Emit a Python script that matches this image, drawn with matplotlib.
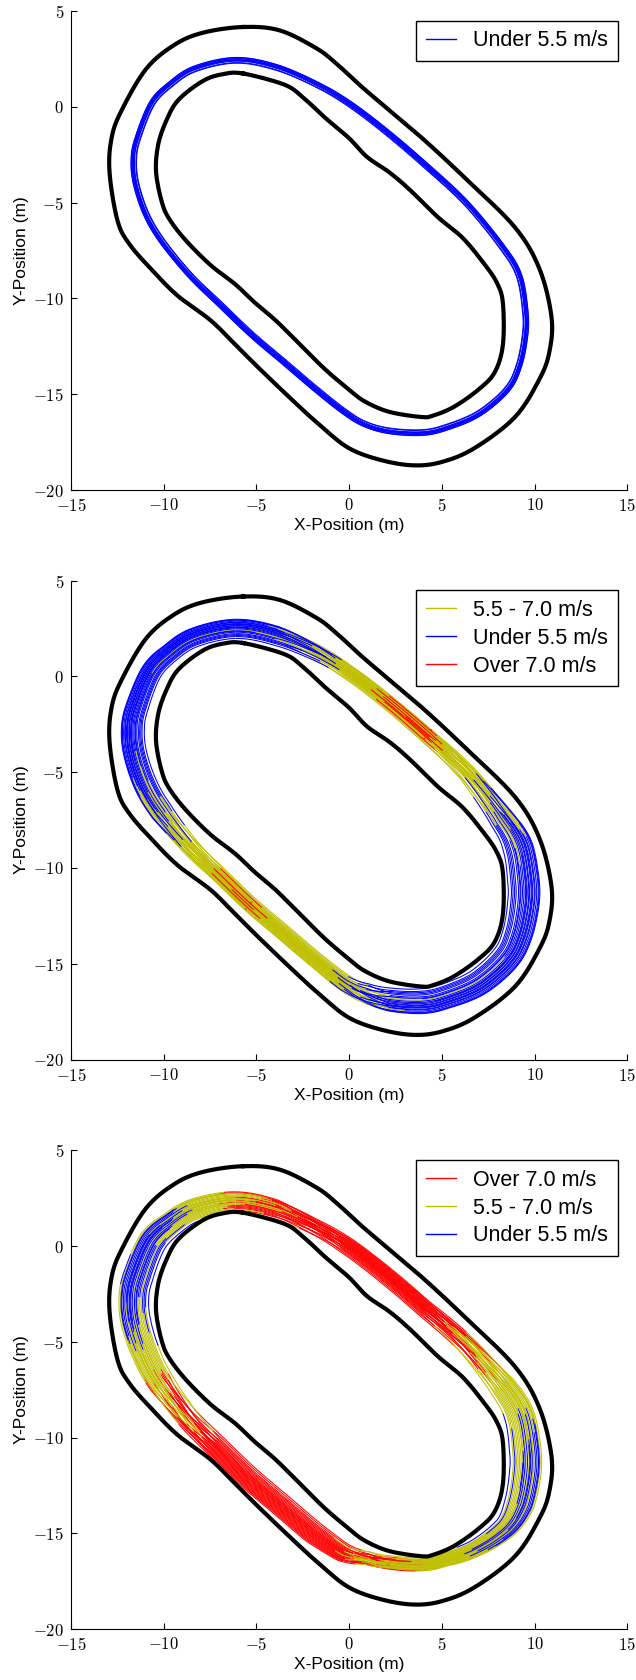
import numpy as np
import matplotlib
matplotlib.use("Agg")
import matplotlib.pyplot as plt
from matplotlib.collections import LineCollection
from matplotlib.lines import Line2D
from matplotlib.ticker import FuncFormatter

plt.rcParams['font.family'] = ['Liberation Sans', 'DejaVu Sans']
plt.rcParams['mathtext.fontset'] = 'cm'

# ---------------- track boundaries ----------------
outer_x = [-5.71, -3.74, -1.77, -0.68, 0.64, 2.17, 4.13, 6.32, 8.94, 10.26, 10.91, 10.80,
           10.26, 8.94, 6.76, 5.01, 3.48, 1.73, -0.02, -1.55, -3.08, -4.83, -6.14, -7.46,
           -9.21, -10.52, -11.83, -12.49, -12.92, -12.81, -12.27, -10.95, -9.42, -7.89]
outer_y = [4.17, 3.99, 3.06, 2.25, 1.08, -0.18, -1.80, -3.78, -6.29, -8.45, -10.97, -12.77,
           -14.21, -16.19, -17.81, -18.53, -18.71, -18.44, -17.81, -16.64, -15.29, -13.67, -12.41, -11.15,
           -9.89, -8.63, -7.19, -5.94, -3.42, -1.62, -0.18, 1.98, 3.24, 3.87]
inner_x = [-5.71, -3.52, -2.54, -1.33, -0.02, 0.96, 2.17, 3.26, 4.79, 6.11, 7.20, 7.96, 8.29,
           8.29, 7.85, 6.98, 5.66, 4.57, 3.92, 2.17, 0.85, -0.02, -1.33, -2.64, -3.96, -5.05,
           -6.14, -7.46, -8.77, -9.64, -10.08, -10.41, -10.30, -9.86, -9.21, -7.89, -6.80]
inner_y = [1.74, 1.17, 0.54, -0.54, -1.62, -2.61, -3.42, -4.32, -5.76, -6.83, -8.09, -9.17, -10.25,
           -12.41, -13.85, -14.75, -15.65, -16.10, -16.19, -15.92, -15.38, -14.75, -13.67, -12.41, -11.15, -10.25,
           -9.26, -8.27, -7.01, -5.94, -5.04, -3.42, -1.98, -0.72, 0.36, 1.35, 1.71]

# ---------------- driven line (knots, clockwise) ----------------
path_x = [-6.14, -3.96, -1.77, -0.02, 1.95, 4.13, 6.32, 8.29, 9.16, 9.49, 9.49, 9.16, 8.51, 6.98,
          5.23, 3.92, 2.17, 0.85, -0.24, -1.77, -3.52, -5.27, -7.02, -8.55, -10.08, -10.95,
          -11.50, -11.61, -11.39, -10.63, -9.64, -8.33]
path_y = [2.43, 2.07, 1.17, 0.18, -1.26, -3.06, -5.04, -7.37, -8.81, -10.61, -11.87, -13.49, -14.75,
          -16.01, -16.73, -17.00, -16.91, -16.55, -15.92, -14.75, -13.31, -11.87, -10.25, -8.81, -7.01,
          -5.58, -3.96, -2.70, -1.62, 0.18, 1.17, 1.98]
# 1 = corner knot, 0 = straight knot
corner = [1, 1, 0.5, 0, 0, 0, 0.5, 1, 1, 1, 1, 1, 1, 1, 1, 1, 1, 0.5, 0, 0, 0, 0, 0, 0.5, 1, 1,
          1, 1, 1, 1, 1, 1]

# ---- panel 1: all laps under 5.5 m/s
shift1 = [0.0] * 32
half1 = [0.15] * 32
lapA1 = [-1.0, -0.7, -0.45, -0.2, 0.0, 0.2, 0.4, 0.65, 0.85, 1.0]
lapB1 = [-0.8, -1.0, -0.3, 0.1, -0.1, 0.5, 0.2, 0.9, 0.6, 1.0]
speed1 = [4.6] * 32
bias1 = [0.0] * 10

# ---- panel 2
shift2 = [0.05, 0.05, 0.05, 0.0, 0.0, 0.0, 0.0, -0.1, -0.1, -0.1, -0.1, -0.1, -0.1, -0.05,
          -0.05, -0.05, -0.05, -0.05, 0.05, 0.05, 0.05, 0.05, 0.05, 0.05, 0.05, 0.05,
          0.05, 0.05, 0.05, 0.05, 0.05, 0.05]
half2 = [0.5, 0.5, 0.45, 0.38, 0.38, 0.4, 0.5, 0.65, 0.8, 0.85, 0.85, 0.8, 0.75, 0.7,
         0.65, 0.65, 0.6, 0.55, 0.45, 0.42, 0.42, 0.42, 0.42, 0.5, 0.6, 0.62,
         0.62, 0.62, 0.6, 0.55, 0.5, 0.5]
speed2 = [5.0, 5.2, 5.5, 6.2, 6.7, 6.8, 6.0, 5.4, 5.1, 4.9, 4.8, 4.9, 5.0, 5.0,
          5.0, 5.1, 5.2, 5.4, 5.8, 6.2, 6.3, 6.7, 6.6, 6.0, 5.5, 5.2,
          5.0, 4.9, 4.9, 5.0, 5.0, 5.0]
lapA2 = [-0.95, -0.8, -0.65, -0.55, -0.45, -0.35, -0.28, -0.2, -0.12, -0.05, 0.0, 0.05,
         0.12, 0.18, 0.25, 0.32, 0.4, 0.48, 0.56, 0.65, 0.75, 0.85, 0.95, 1.0]
lapB2 = [-0.6, -1.0, -0.2, -0.8, 0.1, -0.5, 0.3, -0.35, 0.5, -0.1, 0.2, -0.7,
         0.65, 0.0, 0.8, -0.25, 0.45, 0.95, 0.15, 1.0, 0.35, 0.7, 0.55, 0.9]
bias2 = [0.1, -0.3, 0.4, -0.1, 0.2, -0.5, 0.0, 0.3, -0.2, 0.5, -0.4, 0.1,
         0.25, -0.15, 0.35, -0.05, 0.15, -0.35, 0.45, -0.25, 0.05, 0.3, -0.45, 0.2]

# ---- panel 3
shift3 = [-0.15, -0.15, -0.2, -0.2, -0.2, -0.2, -0.1, 0.0, 0.0, 0.0, 0.0, 0.0, -0.1, -0.3,
          -0.4, -0.4, -0.4, -0.3, 0.1, 0.25, 0.25, 0.25, 0.25, 0.2, 0.1, 0.0,
          0.0, 0.0, 0.0, 0.0, -0.05, -0.1]
half3 = [0.55, 0.5, 0.45, 0.45, 0.45, 0.45, 0.55, 0.7, 0.8, 0.85, 0.85, 0.8, 0.6, 0.45,
         0.38, 0.35, 0.35, 0.4, 0.5, 0.6, 0.6, 0.6, 0.6, 0.65, 0.7, 0.75,
         0.8, 0.8, 0.8, 0.75, 0.65, 0.6]
speed3 = [6.9, 7.3, 7.6, 7.8, 7.9, 7.7, 7.1, 6.4, 5.8, 5.5, 5.4, 5.5, 5.6, 5.8,
          6.2, 6.6, 6.9, 7.1, 7.4, 7.6, 7.8, 7.8, 7.6, 7.2, 6.8, 6.0,
          5.4, 5.2, 5.1, 5.2, 5.5, 6.0]
lapA3 = [-1.0, -0.85, -0.7, -0.6, -0.5, -0.4, -0.3, -0.22, -0.15, -0.08, 0.0, 0.06,
         0.12, 0.2, 0.28, 0.35, 0.42, 0.5, 0.58, 0.66, 0.74, 0.82, 0.9, 1.0]
lapB3 = [-0.7, -0.3, -1.0, 0.2, -0.5, 0.4, -0.15, -0.8, 0.6, 0.0, 0.3, -0.4,
         0.8, -0.6, 0.1, 1.0, -0.2, 0.7, 0.5, -0.05, 0.9, 0.25, 0.45, 0.85]
bias3 = [-0.2, 0.3, -0.5, 0.1, 0.4, -0.3, 0.0, 0.2, -0.4, 0.5, -0.1, 0.3,
         -0.25, 0.15, -0.45, 0.35, 0.05, -0.15, 0.25, -0.35, 0.45, -0.05, 0.1, -0.2]

LABEL_LOW = 'Under 5.5 m/s'
LABEL_MID = '5.5 - 7.0 m/s'
LABEL_HIGH = 'Over 7.0 m/s'
COLORS = {0: '#0000ff', 1: '#bfbf00', 2: '#ff0000'}
LABELS = {0: LABEL_LOW, 1: LABEL_MID, 2: LABEL_HIGH}


def catmull_closed(px, py, m=24):
    P = np.column_stack([px, py])
    n = len(P)
    t = np.linspace(0, 1, m, endpoint=False)
    pts = []
    for i in range(n):
        p0, p1, p2, p3 = P[(i - 1) % n], P[i], P[(i + 1) % n], P[(i + 2) % n]
        tt = t[:, None]
        pts.append(0.5 * ((2 * p1) + (-p0 + p2) * tt + (2 * p0 - 5 * p1 + 4 * p2 - p3) * tt ** 2
                          + (-p0 + 3 * p1 - 3 * p2 + p3) * tt ** 3))
    return np.vstack(pts)


def knot_field(vals, m=24):
    v = np.asarray(vals, float)
    n = len(v)
    u = np.arange(n * m) / m
    return np.interp(u, np.arange(n + 1), np.append(v, v[0]))


def draw_laps(ax, shift, half, speed, lapA, lapB, bias, order):
    m = 24
    base = catmull_closed(path_x, path_y, m)
    d = np.gradient(np.vstack([base[-1:], base, base[:1]]), axis=0)[1:-1]
    d /= np.linalg.norm(d, axis=1)[:, None]
    nrm = np.column_stack([-d[:, 1], d[:, 0]])  # outward for clockwise path
    sh = knot_field(shift, m)
    hw = knot_field(half, m)
    cw = knot_field(corner, m)
    sp = knot_field(speed, m)
    runs = {0: [], 1: [], 2: []}
    for a, b, bs in zip(lapA, lapB, bias):
        lat = sh + hw * (a * (1 - cw) + b * cw)
        pts = base + nrm * lat[:, None]
        v = sp + bs
        cls = np.where(v < 5.5, 0, np.where(v < 7.0, 1, 2))
        pts_c = np.vstack([pts, pts[:1]])
        cls_c = np.append(cls, cls[0])
        start = 0
        for k in range(1, len(cls_c)):
            if cls_c[k] != cls_c[start] or k == len(cls_c) - 1:
                runs[cls_c[start]].append(pts_c[start:k + 1])
                start = k
    z = 2
    for c in order:
        if runs[c]:
            ax.add_collection(LineCollection(runs[c], colors=COLORS[c], linewidths=0.75, zorder=z))
        z += 1


fig = plt.figure(figsize=(6.36, 16.8), dpi=100)
L, W, H = 0.1116, 0.8748, 0.2851
bottoms = [0.7083, 0.3693, 0.0302]

panels = [
    (shift1, half1, speed1, lapA1, lapB1, bias1, [0], [0]),
    (shift2, half2, speed2, lapA2, lapB2, bias2, [1, 0, 2], [1, 0, 2]),
    (shift3, half3, speed3, lapA3, lapB3, bias3, [2, 1, 0], [2, 1, 0]),
]

fmt = FuncFormatter(lambda v, p: r'$%d$' % int(round(v)))

outer_s = catmull_closed(outer_x, outer_y, 8)
inner_s = catmull_closed(inner_x, inner_y, 8)

for bt, (sh, hw, sp, la, lb, bs, order, leg) in zip(bottoms, panels):
    ax = fig.add_axes([L, bt, W, H])
    for ring in (outer_s, inner_s):
        ax.plot(np.append(ring[:, 0], ring[0, 0]), np.append(ring[:, 1], ring[0, 1]),
                color='black', lw=3.0, zorder=10, solid_joinstyle='round')
    draw_laps(ax, sh, hw, sp, la, lb, bs, order)
    ax.set_xlim(-15, 15)
    ax.set_ylim(-20, 5)
    ax.set_xticks([-15, -10, -5, 0, 5, 10, 15])
    ax.set_yticks([-20, -15, -10, -5, 0, 5])
    ax.xaxis.set_major_formatter(fmt)
    ax.yaxis.set_major_formatter(fmt)
    ax.spines['top'].set_visible(False)
    ax.spines['right'].set_visible(False)
    ax.tick_params(direction='in', length=4, width=0.8, labelsize=12, pad=5,
                   top=False, right=False)
    ax.set_xlabel('X-Position (m)', fontsize=12.5, labelpad=3)
    ax.set_ylabel('Y-Position (m)', fontsize=12.5, labelpad=3)
    handles = [Line2D([0], [0], color=COLORS[c], lw=1.0) for c in leg]
    lg = ax.legend(handles, [LABELS[c] for c in leg], loc='upper right', fontsize=15.5,
                   fancybox=False, framealpha=1, edgecolor='black', handlelength=1.4,
                   handletextpad=0.8, labelspacing=0.32, borderaxespad=0.45, borderpad=0.45)
    lg.get_frame().set_linewidth(1.0)
    lg.set_zorder(20)

fig.savefig('out.png', dpi=100)
